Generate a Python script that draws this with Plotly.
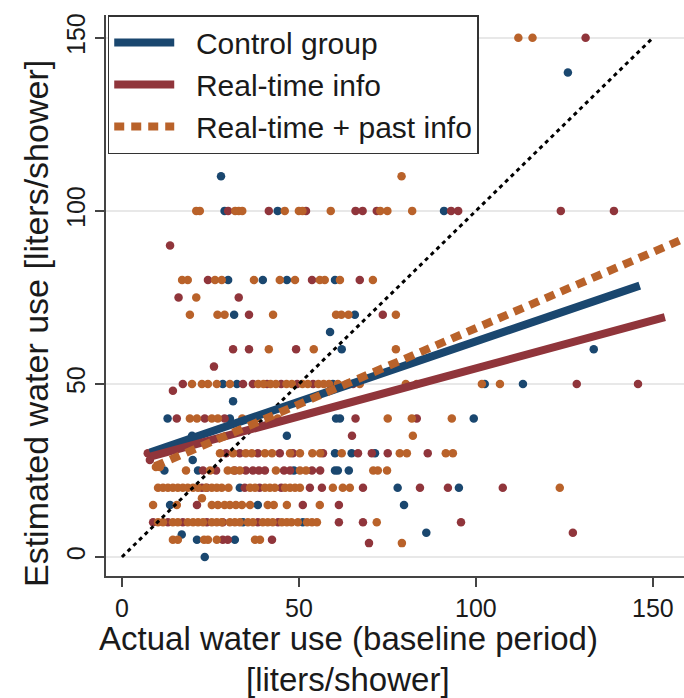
import plotly.graph_objects as go

# ---------------- data ----------------
# scatter points per group: estimated value (y) -> list of actual values (x)
control_rows = {
    140: [126],
    110: [28],
    100: [29, 44, 91],
    80: [30, 39.8, 46.6, 60.2],
    70: [31.7, 65.8],
    65: [58.8],
    60: [62.1, 133.3],
    50: [28.5, 32.5, 59.6, 102.5, 113.3],
    45: [31.4],
    40: [12.9, 30.5, 60.5, 61.6, 99.4],
    35: [19.8, 46.6],
    30: [60.2, 64.9, 71.5],
    28: [20],
    25: [12, 21.5, 48.6, 60.2, 61, 64.1],
    20: [33.3, 77.9, 95.2],
    15: [13.6, 38.4, 79.7],
    10: [34.2, 51.1],
    7: [86],
    6.5: [16.9],
    5: [21.2, 31.9],
    0: [23.4],
}
realtime_rows = {
    150: [131],
    100: [30, 41.5, 52, 66, 68, 72, 93, 95, 124, 139],
    90: [13.6],
    80: [24.3, 53.7, 67.2],
    75: [16, 33],
    70: [35.9, 73.7],
    60: [31.4, 35.9, 49.2],
    55: [26],
    50: [17.2, 34.2, 37, 41, 45, 49.5, 54, 65.3, 128.5, 145.8],
    48: [14.4],
    40: [15.5, 23.4, 29, 66, 83.3],
    35: [65],
    30: [7.3, 29.4, 33.3, 38.4, 44.6, 48.3, 56.8, 66.7, 70.6, 75.1, 86.4],
    28: [7.9],
    25: [22.9, 26.6, 31.9, 35, 37, 38.7, 40.4, 45.8, 47.5, 53.7, 56],
    20: [22.6, 24, 34.7, 38.9, 45, 53.1, 56.5, 68.1, 84.2, 92.1, 107.6],
    15: [21.2, 51.1, 61.3],
    10: [8.8, 13, 17.2, 24, 28.5, 38.4, 44.1, 61.3, 68.1, 95.8],
    7: [127.4],
    5: [28.5, 29.9, 42.4],
    4: [69.8],
}
pastinfo_rows = {
    150: [112, 116],
    110: [79],
    100: [21, 22, 32, 33, 34, 46, 50, 51, 59, 73, 75, 82],
    80: [17, 18.6, 26.3, 28.2, 37.3, 44.6, 48.9, 55.9, 57.3, 61.6, 70.9],
    75: [21],
    70: [19.2, 27, 29, 42.7, 60.5, 62, 64, 77.4],
    60: [41.5, 54.2, 77.4],
    50: [19.8, 22.6, 24.3, 26.8, 30.5, 38.5, 40, 42, 43.5, 46.5, 48, 51, 52.5,
         55.5, 57, 58.5, 61, 63.6, 67.2, 80.2, 83.3, 101.7, 106.8],
    40: [19.2, 21.2, 25.4, 27.1, 34, 38, 44, 75.1, 81.9, 93.2],
    35: [82.2],
    30: [10.7, 27.7, 31.4, 35, 36.7, 40.4, 42.4, 47.5, 50.3, 53.8, 56, 62.1,
         78.5, 80.5, 91.5, 93.5],
    26: [9.6, 10.7],
    25: [18.1, 24.9, 29.9, 31.6, 33.3, 43.5, 50.3, 52, 71, 72.3, 74.9],
    20: [10.2, 11.6, 13, 14.4, 15.8, 17.2, 18.6, 20.1, 21.5, 23.7, 25.4, 26.8,
         28.2, 30.1, 36.2, 37.6, 40.4, 41.8, 43.2, 46.1, 47.5, 48.9, 50.3, 59.6,
         62.4, 64.4, 123.7],
    17: [22.6],
    15: [8.8, 15.5, 25.4, 27.1, 29, 30.5, 32.2, 33.9, 36.2, 41.2, 42.9, 46.6, 55.9],
    10: [10.2, 11.6, 14.4, 15.8, 18.6, 20.1, 21.5, 22.9, 25.4, 26.8, 28.2, 30.5,
         31.9, 33.3, 35.6, 37, 39.8, 41.2, 42.6, 45.2, 46.6, 47.9, 49.7, 52.3,
         53.7, 55.1, 72],
    5: [14.4, 15.8, 23.2, 24.3, 26.8, 37.6, 39],
    4: [79.1],
}

# linear-fit lines (endpoints)
control_fit_x = [7.9, 146.3]
control_fit_y = [30.2, 78.4]
realtime_fit_x = [8.0, 153.4]
realtime_fit_y = [29.0, 69.3]
pastinfo_fit_x = [9.3, 160.0]
pastinfo_fit_y = [26.2, 92.5]

diag_x = [0, 150]
diag_y = [0, 150]

tick_vals = [0, 50, 100, 150]
tick_text = ["0", "50", "100", "150"]

names = ["Control group", "Real-time info", "Real-time + past info"]
colors = ["#1a476f", "#90353b", "#b9622a"]

x_title_lines = ["Actual water use (baseline period)", "[liters/shower]"]
y_title = "Estimated water use [liters/shower]"


def flatten(rows):
    xs, ys = [], []
    for yv, xl in rows.items():
        for xv in xl:
            xs.append(xv)
            ys.append(yv)
    return xs, ys


FONT = "Liberation Sans, Arial, sans-serif"
fig = go.Figure()

for rows, col in zip([control_rows, realtime_rows, pastinfo_rows], colors):
    xs, ys = flatten(rows)
    fig.add_trace(go.Scatter(x=xs, y=ys, mode="markers",
                             marker=dict(size=8.5, color=col, line=dict(width=0)),
                             showlegend=False, hoverinfo="skip"))

fig.add_trace(go.Scatter(x=diag_x, y=diag_y, mode="lines",
                         line=dict(color="black", width=3, dash="4px,4px"),
                         showlegend=False))

fits = [(control_fit_x, control_fit_y, "solid"),
        (realtime_fit_x, realtime_fit_y, "solid"),
        (pastinfo_fit_x, pastinfo_fit_y, "10px,7px")]
for (fx, fy, dash), nm, col in zip(fits, names, colors):
    fig.add_trace(go.Scatter(x=fx, y=fy, mode="lines", name="\u00a0\u00a0" + nm,
                             line=dict(color=col, width=8, dash=dash)))

fig.update_layout(
    width=684, height=698,
    margin=dict(l=106, r=0, t=15, b=122),
    paper_bgcolor="white", plot_bgcolor="white",
    font=dict(family=FONT, color="#1a1a1a"),
    showlegend=True,
    legend=dict(x=0.003, y=1, xanchor="left", yanchor="top",
                bgcolor="white", bordercolor="#333333", borderwidth=1.5,
                font=dict(size=30, family=FONT, color="#1a1a1a"),
                itemwidth=60, tracegroupgap=0),
    xaxis=dict(range=[-4.5, 158.8], tickvals=tick_vals, ticktext=tick_text,
               showgrid=False, zeroline=False, showline=True,
               linecolor="#444444", linewidth=1.5,
               ticks="outside", ticklen=9, tickwidth=1.5, tickcolor="#444444",
               tickfont=dict(size=25, family=FONT, color="#1a1a1a")),
    yaxis=dict(range=[-5.5, 156.6], tickvals=tick_vals, ticktext=tick_text,
               showgrid=True, gridcolor="#e8e8e8", gridwidth=1.5,
               zeroline=False, showline=True,
               linecolor="#444444", linewidth=1.5,
               ticks="outside", ticklen=9, tickwidth=1.5, tickcolor="#444444",
               tickangle=-90,
               tickfont=dict(size=25, family=FONT, color="#1a1a1a")),
)

for txt, ypos in zip(x_title_lines, [-0.111, -0.184]):
    fig.add_annotation(xref="paper", yref="paper", x=0.419, y=ypos,
                       xanchor="center", yanchor="middle", text=txt,
                       showarrow=False,
                       font=dict(size=33, family=FONT, color="#1a1a1a"))
fig.add_annotation(xref="paper", yref="paper", x=-0.122, y=0.45,
                   xanchor="center", yanchor="middle",
                   text=y_title, textangle=-90,
                   showarrow=False,
                   font=dict(size=34, family=FONT, color="#1a1a1a"))

fig.write_html("out.html")
